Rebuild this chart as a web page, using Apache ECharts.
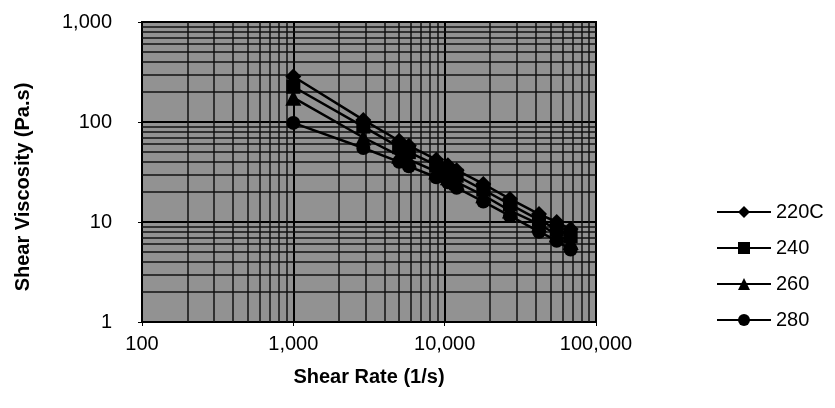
<!DOCTYPE html>
<html>
<head>
<meta charset="utf-8">
<script src="https://cdn.jsdelivr.net/npm/echarts@6/dist/echarts.min.js"></script>
<style>
  html, body { margin: 0; padding: 0; background: #fff; }
</style>
</head>
<body>
<div id="main" style="width:835px;height:408px;"></div>
<script type="text/javascript">
    // shear rate (1/s), same for every temperature
    var shearRate = [1000, 2900, 5000, 5800, 8800, 10500, 12000, 18000, 27000, 42000, 55000, 68000];
    // shear viscosity (Pa.s)
    var visc220 = [285, 105, 65, 58, 42, 37, 33, 24, 17, 12, 10, 8.5];
    var visc240 = [225, 90, 56, 50, 37, 32, 29, 21, 15, 10.5, 8.5, 7.2];
    var visc260 = [175, 70, 46, 42, 32, 28, 25, 18.5, 13, 9.5, 7.5, 6.3];
    var visc280 = [98, 55, 40, 36, 28, 25, 22, 16, 11.5, 8, 6.5, 5.3];
    var seriesNames = ['220C', '240', '260', '280'];
    var symbols = ['diamond', 'rect', 'triangle', 'circle'];
    // minor grid values (log decades)
    var xMinor = [200, 300, 400, 500, 600, 700, 800, 900, 2000, 3000, 4000, 5000, 6000, 7000, 8000, 9000,
                  20000, 30000, 40000, 50000, 60000, 70000, 80000, 90000];
    var yMinor = [2, 3, 4, 5, 6, 7, 8, 9, 20, 30, 40, 50, 60, 70, 80, 90, 200, 300, 400, 500, 600, 700, 800, 900];

    function pairs(xs, ys) {
        return xs.map(function (x, i) { return [x, ys[i]]; });
    }
    function fmt(v) { return Number(v).toLocaleString('en-US'); }

    var values = [visc220, visc240, visc260, visc280];
    var series = seriesNames.map(function (n, i) {
        return {
            name: n,
            type: 'line',
            z: 5,
            data: pairs(shearRate, values[i]),
            symbol: symbols[i],
            symbolSize: i == 0 ? 16 : (i == 2 ? 16 : 14),
            lineStyle: { color: '#000', width: 2.5 },
            itemStyle: { color: '#000' }
        };
    });

    // minor grid lines through the axes' own scales
    var minorLines = xMinor.map(function (v) { return { xAxis: v }; })
        .concat(yMinor.map(function (v) { return { yAxis: v }; }));
    series.unshift({
        name: 'grid',
        type: 'line',
        z: 1,
        data: [],
        markLine: {
            silent: true,
            symbol: 'none',
            label: { show: false },
            lineStyle: { color: '#111', width: 1.5, type: 'solid' },
            data: minorLines
        }
    });

    var myChart = echarts.init(document.getElementById('main'));
    var option = {
        animation: false,
        textStyle: { fontFamily: 'Liberation Sans, Arial, sans-serif' },
        grid: {
            left: 142, right: 239, top: 22, bottom: 86,
            show: true,
            backgroundColor: '#929292',
            borderColor: '#000',
            borderWidth: 2
        },
        legend: {
            data: seriesNames,
            orient: 'vertical',
            left: 711,
            top: 197,
            itemWidth: 54,
            itemHeight: 15,
            itemGap: 16,
            textStyle: { fontSize: 20, color: '#000', fontFamily: 'Liberation Sans, Arial, sans-serif' }
        },
        xAxis: {
            type: 'log',
            logBase: 10,
            min: 100,
            max: 100000,
            name: 'Shear Rate (1/s)',
            nameLocation: 'middle',
            nameGap: 45,
            nameTextStyle: { fontSize: 20, fontWeight: 'bold', color: '#000' },
            axisLine: { lineStyle: { color: '#000', width: 2 } },
            axisTick: { show: true, length: 4, lineStyle: { color: '#000' } },
            axisLabel: { fontSize: 20, color: '#000', margin: 12, formatter: fmt },
            splitLine: { show: true, lineStyle: { color: '#000', width: 2 } }
        },
        yAxis: {
            type: 'log',
            logBase: 10,
            min: 1,
            max: 1000,
            name: 'Shear Viscosity (Pa.s)',
            nameLocation: 'middle',
            nameGap: 109,
            nameTextStyle: { fontSize: 20, fontWeight: 'bold', color: '#000', padding: [0, 30, 0, 0] },
            axisLine: { lineStyle: { color: '#000', width: 2 } },
            axisTick: { show: true, length: 4, lineStyle: { color: '#000' } },
            axisLabel: { fontSize: 20, color: '#000', margin: 30, formatter: fmt },
            splitLine: { show: true, lineStyle: { color: '#000', width: 2 } }
        },
        series: series
    };
    myChart.setOption(option);
</script>
</body>
</html>
